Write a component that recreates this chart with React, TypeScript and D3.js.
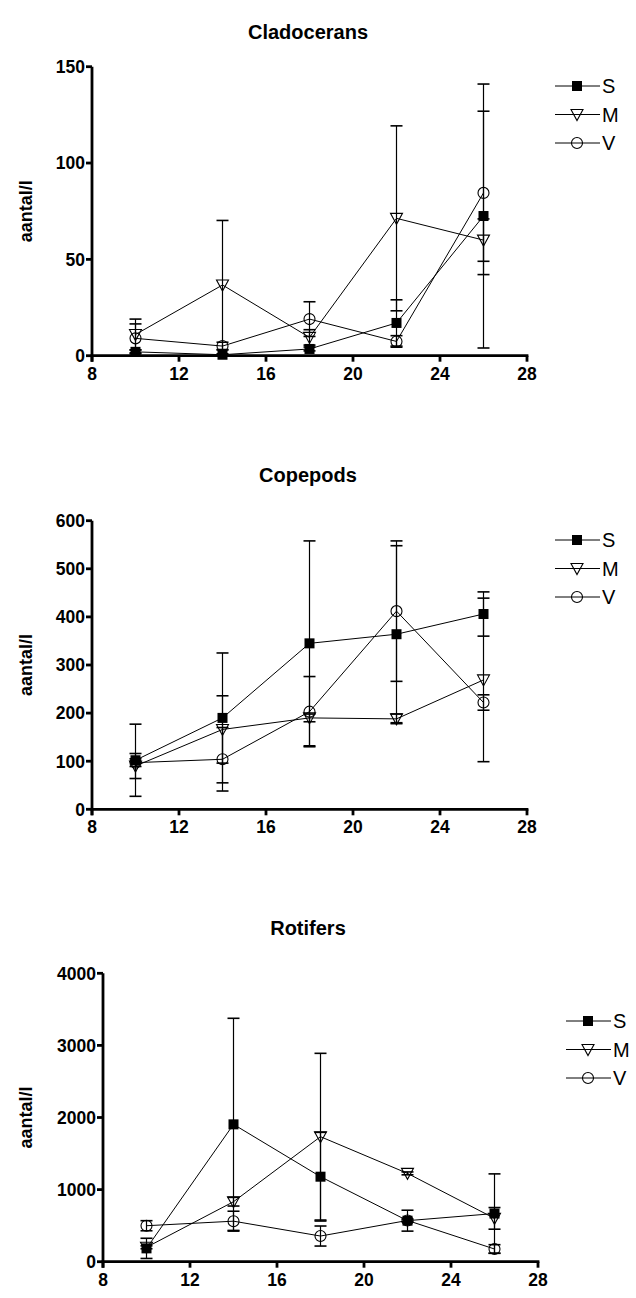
import React from 'react';
import * as d3 from 'd3';

// temperatures (x) and axis ticks
const temps = [10, 14, 18, 22, 26];
const xTicks = [8, 12, 16, 20, 24, 28];

// Cladocerans
const cladoS = [2, 0.5, 3.5, 17, 72.5];
const cladoSErr = [1, 0.5, 1, 12, 68.5];
const cladoM = [11, 36.7, 9.5, 71.3, 60];
const cladoMErr = [8, 33.5, 4, 48, 11];
const cladoV = [9, 5, 19, 7.4, 84.5];
const cladoVErr = [7.5, 2, 9, 3, 42.4];
const cladoTicks = [0, 50, 100, 150];

// Copepods
const copeS = [102, 190, 345, 364, 406];
const copeSErr = [75, 135, 213, 184, 46];
const copeM = [90, 166, 190, 188, 269];
const copeMErr = [26, 70, 8, 10, 170];
const copeV = [97, 104, 203, 412, 222];
const copeVErr = [8, 66, 73, 146, 16];
const copeTicks = [0, 100, 200, 300, 400, 500, 600];

// Rotifers
const rotiS = [185, 1905, 1179, 569, 668];
const rotiSErr = [140, 1471, 615, 145, 550];
const rotiM = [200, 832, 1734, 1225, 601];
const rotiMErr = [20, 60, 1156, 20, 150];
const rotiV = [499, 562, 356, 572, 176];
const rotiVErr = [70, 138, 139, 20, 60];
const rotiTicks = [0, 1000, 2000, 3000, 4000];

type Marker = 'square' | 'triangle' | 'circle';
const markers: Marker[] = ['square', 'triangle', 'circle'];
const seriesNames = ['S', 'M', 'V'];

const panels = [
  {
    title: 'Cladocerans', ticks: cladoTicks,
    values: [cladoS, cladoM, cladoV], errs: [cladoSErr, cladoMErr, cladoVErr],
    left: 92, top: 66.7, bottom: 355.7, titleY: 39, legendTop: 86,
  },
  {
    title: 'Copepods', ticks: copeTicks,
    values: [copeS, copeM, copeV], errs: [copeSErr, copeMErr, copeVErr],
    left: 92, top: 520.7, bottom: 809.3, titleY: 482, legendTop: 540,
  },
  {
    title: 'Rotifers', ticks: rotiTicks,
    values: [rotiS, rotiM, rotiV], errs: [rotiSErr, rotiMErr, rotiVErr],
    left: 103, top: 973.3, bottom: 1261.7, titleY: 935, legendTop: 1021,
  },
];

const FONT = '"Liberation Sans", Arial, sans-serif';
const PLOT_W = 435;

const MarkerShape = ({ type, x, y }: { type: Marker; x: number; y: number }) => {
  if (type === 'square') {
    return <rect x={x - 5} y={y - 5} width={10} height={10} fill="#000" />;
  }
  if (type === 'triangle') {
    return (
      <path
        d={`M${x - 6},${y - 5}L${x + 6},${y - 5}L${x},${y + 6}Z`}
        fill="none" stroke="#000" strokeWidth={1.1}
      />
    );
  }
  return <circle cx={x} cy={y} r={5.5} fill="none" stroke="#000" strokeWidth={1.1} />;
};

const Panel = ({ p }: { p: typeof panels[number] }) => {
  const yMax = p.ticks[p.ticks.length - 1];
  const x = d3.scaleLinear().domain([8, 28]).range([p.left, p.left + PLOT_W]);
  const y = d3.scaleLinear().domain([0, yMax]).range([p.bottom, p.top]);
  const line = d3.line<number>().x((_, i) => x(temps[i])).y((d) => y(d));
  const right = p.left + PLOT_W;

  return (
    <g>
      <text x={308} y={p.titleY} textAnchor="middle" fontSize={20} fontWeight="bold"
        fontFamily={FONT}>{p.title}</text>

      {/* y label */}
      <text transform={`translate(26,${(p.top + p.bottom) / 2}) rotate(-90)`} textAnchor="middle"
        dy="0.36em" fontSize={18} fontWeight="bold" fontFamily={FONT}>aantal/l</text>

      {/* series lines */}
      {p.values.map((vals, si) => (
        <path key={'l' + si} d={line(vals) || ''} fill="none" stroke="#000" strokeWidth={1} />
      ))}

      {/* error bars */}
      {p.values.map((vals, si) =>
        vals.map((v, i) => {
          const e = p.errs[si][i];
          const cx = x(temps[i]);
          const hi = y(v + e);
          const lo = y(Math.max(0, v - e));
          return (
            <g key={`e${si}-${i}`} stroke="#000" strokeWidth={1.2}>
              <line x1={cx} x2={cx} y1={hi} y2={lo} />
              <line x1={cx - 6} x2={cx + 6} y1={hi} y2={hi} strokeWidth={1.6} />
              {v - e > 0 && <line x1={cx - 6} x2={cx + 6} y1={lo} y2={lo} strokeWidth={1.6} />}
            </g>
          );
        })
      )}

      {/* markers */}
      {p.values.map((vals, si) =>
        vals.map((v, i) => (
          <MarkerShape key={`m${si}-${i}`} type={markers[si]} x={x(temps[i])} y={y(v)} />
        ))
      )}

      {/* axes */}
      <line x1={p.left} x2={p.left} y1={p.top} y2={p.bottom + 6} stroke="#000" strokeWidth={2.8} />
      <line x1={p.left - 1.4} x2={right + 1.4} y1={p.bottom} y2={p.bottom} stroke="#000" strokeWidth={2.8} />
      {p.ticks.map((t) => (
        <g key={'yt' + t}>
          <line x1={p.left - 6} x2={p.left} y1={y(t)} y2={y(t)} stroke="#000" strokeWidth={2.8} />
          <text x={p.left - 7} y={y(t)} dy="0.36em" textAnchor="end" fontSize={17.5}
            fontWeight="bold" fontFamily={FONT}>{t}</text>
        </g>
      ))}
      {xTicks.map((t) => (
        <g key={'xt' + t}>
          <line x1={x(t)} x2={x(t)} y1={p.bottom} y2={p.bottom + 6} stroke="#000" strokeWidth={2.8} />
          <text x={x(t)} y={p.bottom + 24} textAnchor="middle" fontSize={17.5}
            fontWeight="bold" fontFamily={FONT}>{t}</text>
        </g>
      ))}

      {/* legend */}
      {seriesNames.map((name, si) => {
        const ly = p.legendTop + si * 28.5;
        const lx = right + 28;
        return (
          <g key={'lg' + name}>
            <line x1={lx} x2={lx + 45} y1={ly} y2={ly} stroke="#000" strokeWidth={1} />
            <MarkerShape type={markers[si]} x={lx + 22} y={ly} />
            <text x={lx + 47} y={ly} dy="0.36em" fontSize={20} fontFamily={FONT}>{name}</text>
          </g>
        );
      })}
    </g>
  );
};

export default function App() {
  return (
    <svg width={636} height={1298} style={{ position: 'absolute', left: 0, top: 0, background: '#fff' }}>
      <rect width={636} height={1298} fill="#fff" />
      {panels.map((p) => (
        <Panel key={p.title} p={p} />
      ))}
    </svg>
  );
}
